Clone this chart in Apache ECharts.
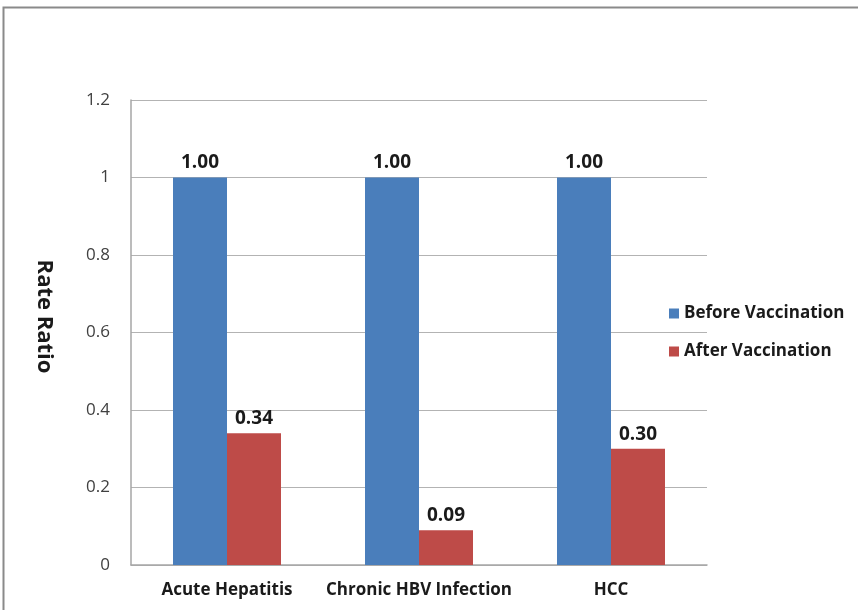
<!DOCTYPE html>
<html>
<head>
<meta charset="utf-8">
<script src="https://cdn.jsdelivr.net/npm/echarts@6/dist/echarts.min.js"></script>
<style>
  html, body { margin: 0; padding: 0; background: #ffffff; }
  #chart { width: 858px; height: 610px; }
</style>
</head>
<body>
<div id="chart"></div>
<script>
// Rate ratios of HBV outcomes before and after vaccination
const categories = ['Acute Hepatitis', 'Chronic HBV Infection', 'HCC'];
const beforeVaccination = [1.00, 1.00, 1.00];
const afterVaccination = [0.34, 0.09, 0.30];
const yTicks = [0, 0.2, 0.4, 0.6, 0.8, 1, 1.2];

const chart = echarts.init(document.getElementById('chart'), null, { renderer: 'canvas' });
const font = '"Open Sans", "Liberation Sans", sans-serif';

const labelStyle = {
  show: true,
  position: 'top',
  distance: 5,
  formatter: p => p.value.toFixed(2),
  fontFamily: font,
  fontWeight: 'bold',
  fontSize: 19,
  color: '#1a1a1a'
};

chart.setOption({
  backgroundColor: '#ffffff',
  animation: false,
  graphic: [{
    type: 'rect',
    shape: { x: 3.5, y: 7.5, width: 900, height: 700 },
    style: { fill: 'none', stroke: '#8a8a8a', lineWidth: 2 },
    silent: true
  }],
  grid: { left: 131, right: 151, top: 100, bottom: 45, containLabel: false },
  legend: {
    orient: 'vertical',
    left: 664,
    top: 300,
    itemWidth: 10,
    itemHeight: 10,
    itemGap: 21,
    icon: 'rect',
    textStyle: { fontFamily: font, fontWeight: 'bold', fontSize: 17, color: '#1a1a1a' },
    data: ['Before Vaccination', 'After Vaccination']
  },
  xAxis: {
    type: 'category',
    data: categories,
    axisLine: { lineStyle: { color: '#a6a6a6', width: 1.5 } },
    axisTick: { show: false },
    axisLabel: {
      interval: 0,
      fontFamily: font, fontWeight: 'bold', fontSize: 17, color: '#1a1a1a', margin: 17
    }
  },
  yAxis: {
    type: 'value',
    min: 0,
    max: yTicks[yTicks.length - 1],
    interval: 0.2,
    name: 'Rate Ratio',
    nameLocation: 'middle',
    nameGap: 76,
    nameRotate: -90,
    nameTextStyle: {
      fontFamily: font, fontWeight: 'bold', fontSize: 22, color: '#1a1a1a',
      padding: [0, 32, 0, 0]
    },
    axisLine: { show: true, lineStyle: { color: '#a6a6a6', width: 1.5 } },
    axisTick: { show: false },
    splitLine: { lineStyle: { color: '#b3b3b3', width: 1 } },
    axisLabel: {
      fontFamily: font, fontSize: 17, color: '#404040', margin: 21,
      formatter: v => String(parseFloat(v.toFixed(1)))
    }
  },
  series: [
    {
      name: 'Before Vaccination',
      type: 'bar',
      data: beforeVaccination,
      barWidth: 54,
      barGap: '0%',
      itemStyle: { color: '#4a7ebb' },
      label: labelStyle
    },
    {
      name: 'After Vaccination',
      type: 'bar',
      data: afterVaccination,
      barWidth: 54,
      itemStyle: { color: '#be4b48' },
      label: labelStyle
    }
  ]
});
</script>
</body>
</html>
